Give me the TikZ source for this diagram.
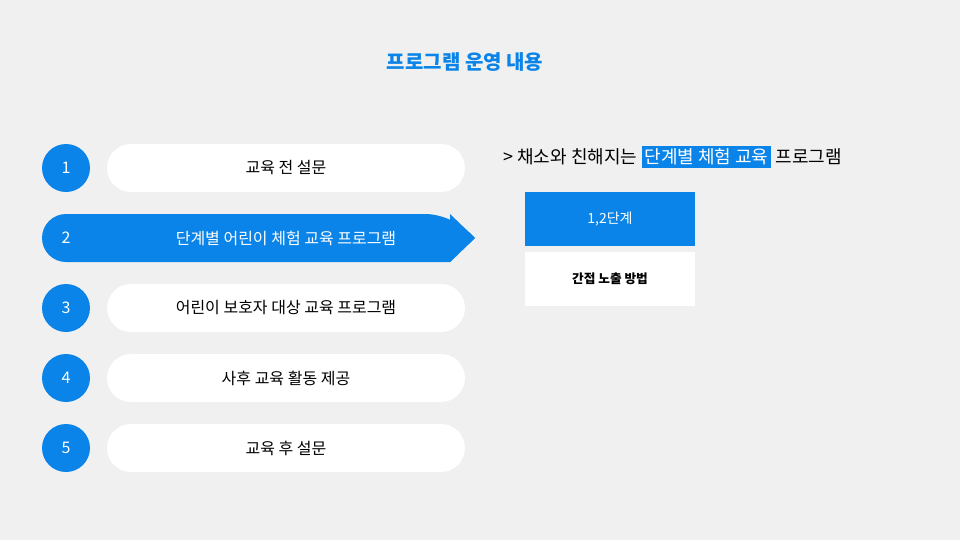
\documentclass[tikz,border=0pt]{standalone}
\usepackage{fontspec}
\setmainfont{Noto Sans CJK KR}
\definecolor{bg}{HTML}{F0F0F0}
\definecolor{bl}{HTML}{0A84E8}
\begin{document}
\begin{tikzpicture}[x=0.75pt,y=-0.75pt,
  num/.style={circle,fill=bl,minimum size=36pt,inner sep=0,text=white,font=\fontsize{12}{14}\selectfont},
  pill/.style={fill=white,rounded corners=18pt},
  lbl/.style={font=\fontsize{12}{14}\selectfont,text=black}]
\fill[bg] (0,0) rectangle (960,540);
\useasboundingbox (0,0) rectangle (960,540);
\node[text=bl,font=\bfseries\fontsize{15}{18}\selectfont] (title) at (465,62) {프로그램 운영 내용};
% pills
\foreach \y/\t/\n in {168/교육 전 설문/1,308/어린이 보호자 대상 교육 프로그램/3,378/사후 교육 활동 제공/4,448/교육 후 설문/5}{
  \fill[pill] (107,\y-24) rectangle (465,\y+24);
  \node[lbl] (t\n) at (286,\y) {\t};
  \node[num] (n\n) at (66,\y) {\n};
}
\fill[bl,rounded corners=18pt] (66,214) -- (450,214) [sharp corners] -- (475,238) -- (450,262) [rounded corners=18pt] -- (42,262) -- (42,214) -- (66,214);
\fill[bl] (450,214) -- (475,238) -- (450,262) -- cycle;
\node[text=white,font=\fontsize{12}{14}\selectfont] (n2) at (66,238) {2};
\node[text=white,font=\fontsize{12}{14}\selectfont] (t2) at (286,238) {단계별 어린이 체험 교육 프로그램};
% right
\node[anchor=west,font=\fontsize{13.5}{16}\selectfont,inner sep=0] (h1) at (503,157) {> 채소와 친해지는};
\node[anchor=west,fill=bl,text=white,font=\fontsize{13.5}{16}\selectfont,inner xsep=2pt,inner ysep=2pt] (h2) at ([xshift=3pt]h1.east) {단계별 체험 교육};
\node[anchor=west,font=\fontsize{13.5}{16}\selectfont,inner sep=0] (h3) at ([xshift=3pt]h2.east) {프로그램};
\fill[bl] (525,192) rectangle (695,246);
\node[text=white,font=\fontsize{10.5}{12}\selectfont] (b1) at (610,219) {1,2단계};
\fill[white] (525,252) rectangle (695,306);
\node[font=\bfseries\fontsize{9.5}{12}\selectfont] (b2) at (610,279) {간접 노출 방법};
\end{tikzpicture}
\end{document}
